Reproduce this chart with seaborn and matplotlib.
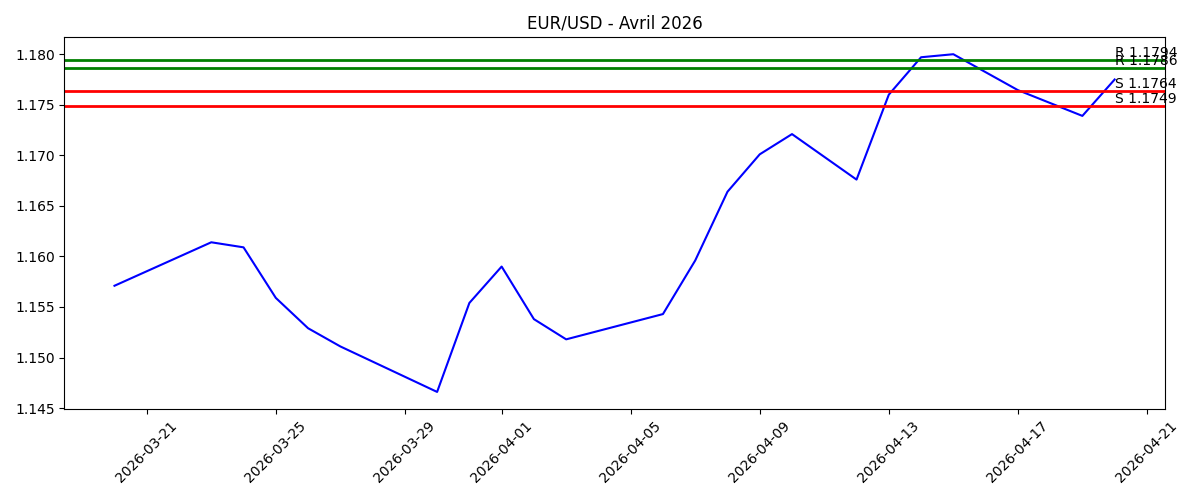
import pandas as pd
import seaborn as sns
import matplotlib.pyplot as plt

# données EUR/USD
dates = ['2026-03-20', '2026-03-23', '2026-03-24', '2026-03-25', '2026-03-26',
         '2026-03-27', '2026-03-30', '2026-03-31', '2026-04-01', '2026-04-02',
         '2026-04-03', '2026-04-06', '2026-04-07', '2026-04-08', '2026-04-09',
         '2026-04-10', '2026-04-12', '2026-04-13', '2026-04-14', '2026-04-15',
         '2026-04-17', '2026-04-19', '2026-04-20']
closes = [1.1571, 1.1614, 1.1609, 1.1559, 1.1529,
          1.1511, 1.1466, 1.1554, 1.1590, 1.1538,
          1.1518, 1.1543, 1.1596, 1.1664, 1.1701,
          1.1721, 1.1676, 1.1760, 1.1797, 1.1800,
          1.17645, 1.1739, 1.1775]

resistances = [1.1794, 1.1786]
supports = [1.1764, 1.1749]

df = pd.DataFrame({'date': pd.to_datetime(dates), 'close': closes})

fig, ax = plt.subplots(figsize=(12, 5), dpi=100)
sns.lineplot(x='date', y='close', data=df, color='blue', ax=ax)

last = df['date'].iloc[-1]
for r in resistances:
    ax.axhline(r, color='green', linewidth=2)
    ax.text(last, r, f'R {r:.4f}', va='bottom')
for s in supports:
    ax.axhline(s, color='red', linewidth=2)
    ax.text(last, s, f'S {s:.4f}', va='bottom')

ax.set_title('EUR/USD - Avril 2026')
ax.set_xlabel('')
ax.set_ylabel('')
plt.xticks(rotation=45)
plt.tight_layout()
plt.savefig('out.png')
